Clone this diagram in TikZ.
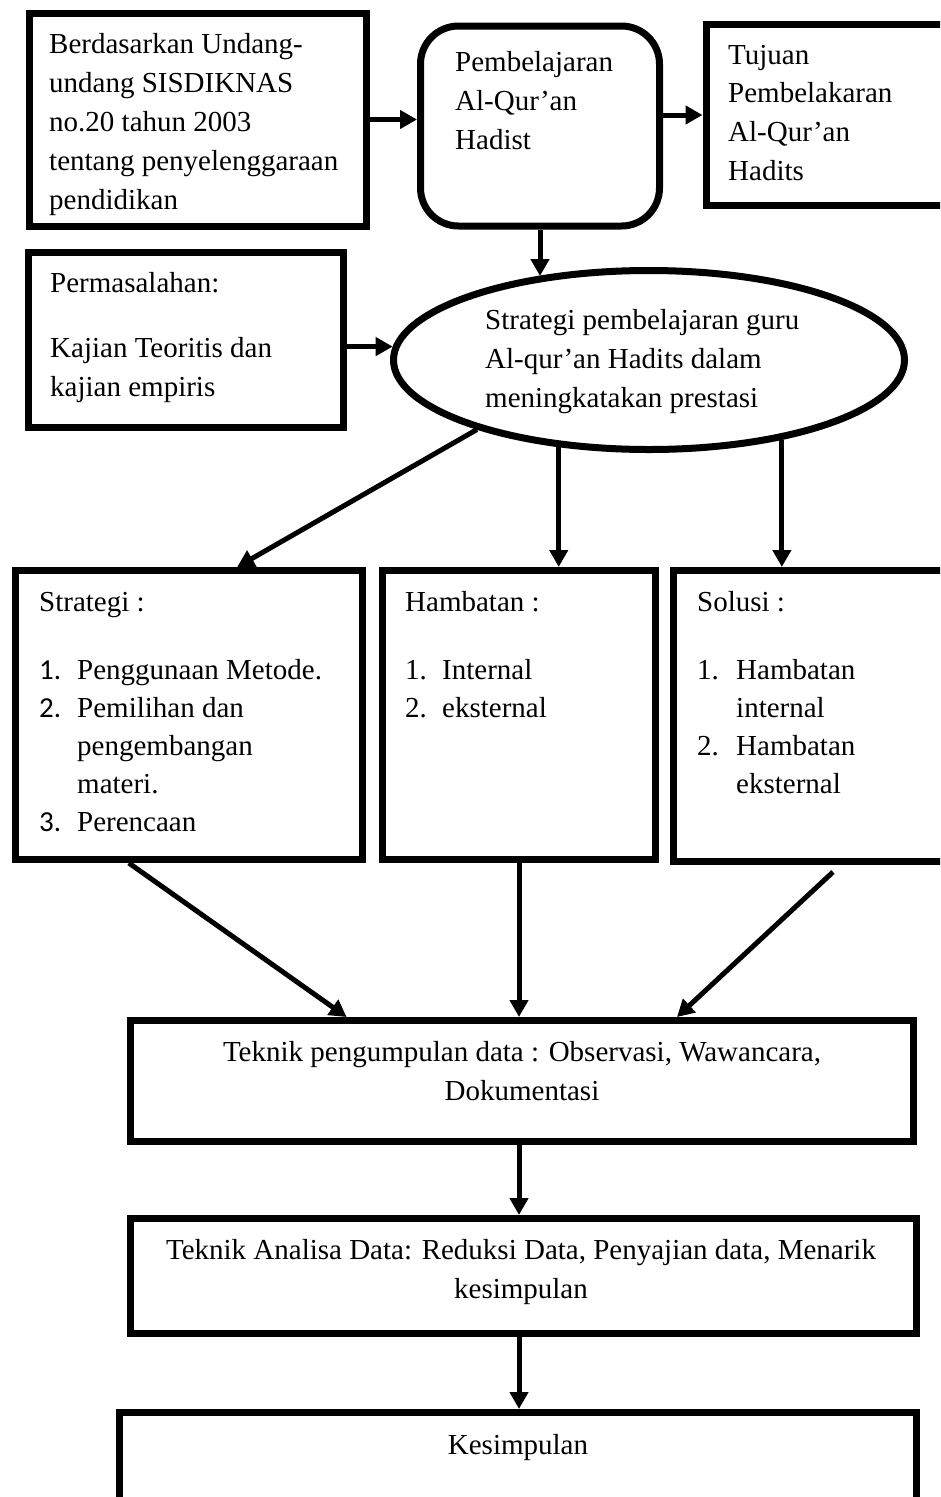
\documentclass[tikz,border=0pt]{standalone}
\usepackage{fontspec}
\setmainfont{Liberation Serif}
\newfontfamily\calfont{Carlito}
\usetikzlibrary{arrows.meta,shapes.geometric,calc}
\begin{document}
\begin{tikzpicture}[x=1pt,y=-1pt,
  frame/.style={draw,line width=7pt,rectangle,inner sep=0pt},
  rframe/.style={draw,line width=7pt,rectangle,rounded corners=38pt,inner sep=0pt},
  oval/.style={draw,line width=7pt,ellipse,inner sep=0pt},
  txt/.style={anchor=base west,inner sep=0pt,font=\fontsize{29}{39}\selectfont},
  ctxt/.style={anchor=base,inner sep=0pt,font=\fontsize{29}{39}\selectfont},
  arr/.style={line width=5pt,-{Triangle[length=17pt,width=18pt]}}
]
\useasboundingbox (0,0) rectangle (940,1497);
\clip (0,0) rectangle (940,1497);
\fill[white] (0,0) rectangle (940,1497);

% boxes
\node[frame,minimum width=337pt,minimum height=213pt] (b1) at (197.5,119.5) {};
\node[rframe,minimum width=239pt,minimum height=200pt] (pem) at (540,126) {};
\node[frame,minimum width=254pt,minimum height=181pt] (tuj) at (833,115) {};
\node[frame,minimum width=315pt,minimum height=175pt] (per) at (186,340) {};
\node[oval,minimum width=511pt,minimum height=179pt] (ell) at (649,360) {};
\node[frame,minimum width=347pt,minimum height=289pt] (str) at (189,715) {};
\node[frame,minimum width=273pt,minimum height=289pt] (ham) at (519,715) {};
\node[frame,minimum width=287pt,minimum height=291pt] (sol) at (817,716) {};
\node[frame,minimum width=783pt,minimum height=121pt] (tpd) at (522,1081) {};
\node[frame,minimum width=786pt,minimum height=115pt] (tad) at (523.5,1276) {};
\node[frame,minimum width=797pt,minimum height=127pt] (kes) at (518,1476) {};

% texts
\node[txt] (b1a) at (49,53) {Berdasarkan Undang-};
\node[txt] (b1b) at (49,92) {undang SISDIKNAS};
\node[txt] (b1c) at (49,131) {no.20 tahun 2003};
\node[txt] (b1d) at (49,170) {tentang penyelenggaraan};
\node[txt] (b1e) at (49,209) {pendidikan};

\node[txt] (pema) at (455,71) {Pembelajaran};
\node[txt] (pemb) at (455,110) {Al-Qur’an};
\node[txt] (pemc) at (455,149) {Hadist};

\node[txt] (tuja) at (728,64) {Tujuan};
\node[txt] (tujb) at (728,102) {Pembelakaran};
\node[txt] (tujc) at (728,141) {Al-Qur’an};
\node[txt] (tujd) at (728,180) {Hadits};

\node[txt] (pera) at (50,292) {Permasalahan:};
\node[txt] (perb) at (50,357) {Kajian Teoritis dan};
\node[txt] (perc) at (50,396) {kajian empiris};

\node[txt] (ella) at (485,329) {Strategi pembelajaran guru};
\node[txt] (ellb) at (485,368) {Al-qur’an Hadits dalam};
\node[txt] (ellc) at (485,407) {meningkatakan prestasi};

\node[txt] (stra) at (39,611) {Strategi :};
\node[txt] (strn1) at (39,679) {\calfont 1.};
\node[txt] (strb) at (77,679) {Penggunaan Metode.};
\node[txt] (strn2) at (39,717) {\calfont 2.};
\node[txt] (strc) at (77,717) {Pemilihan dan};
\node[txt] (strd) at (77,755) {pengembangan};
\node[txt] (stre) at (77,793) {materi.};
\node[txt] (strn3) at (39,831) {\calfont 3.};
\node[txt] (strf) at (77,831) {Perencaan};

\node[txt] (hama) at (405,611) {Hambatan :};
\node[txt] (hamn1) at (405,679) {1.};
\node[txt] (hamb) at (442,679) {Internal};
\node[txt] (hamn2) at (405,717) {2.};
\node[txt] (hamc) at (442,717) {eksternal};

\node[txt] (sola) at (697,611) {Solusi :};
\node[txt] (soln1) at (697,679) {1.};
\node[txt] (solb) at (736,679) {Hambatan};
\node[txt] (solc) at (736,717) {internal};
\node[txt] (soln2) at (697,755) {2.};
\node[txt] (sold) at (736,755) {Hambatan};
\node[txt] (sole) at (736,793) {eksternal};

\node[ctxt] (tpda) at (522,1061) {Teknik pengumpulan data : Observasi, Wawancara,};
\node[ctxt] (tpdb) at (522,1100) {Dokumentasi};
\node[ctxt] (tada) at (521,1259) {Teknik Analisa Data: Reduksi Data, Penyajian data, Menarik};
\node[ctxt] (tadb) at (521,1298) {kesimpulan};
\node[ctxt] (kesa) at (518,1454) {Kesimpulan};

% connectors
\draw[arr] (b1.east) -- (b1.east -| pem.west);
\draw[arr] (pem.east |- tuj.west) -- (tuj.west);
\draw[arr] (pem.south) -- (pem.south |- ell.143.4);
\draw[arr] (per.east |- ell.177.3) -- (ell.177.3);
\draw[arr] (ell.-158) -- ($(str.north west)!0.636!(str.north east)$);
\draw[arr] (ell.-136.3) -- (ell.-136.3 |- ham.north);
\draw[arr] (ell.-31.6) -- (ell.-31.6 |- sol.north);
\draw[arr] ($(str.south west)!0.33!(str.south east)$) -- ($(tpd.north west)!0.278!(tpd.north east)$);
\draw[arr] (ham.south) -- (ham.south |- tpd.north);
\draw[arr] ($(sol.south west)+(163,7)$) -- ($(tpd.north west)+(550,0)$);
\draw[arr] (tpd.south -| ham.south) -- (ham.south |- tad.north);
\draw[arr] (tad.south -| ham.south) -- (ham.south |- kes.north);
\end{tikzpicture}
\end{document}
